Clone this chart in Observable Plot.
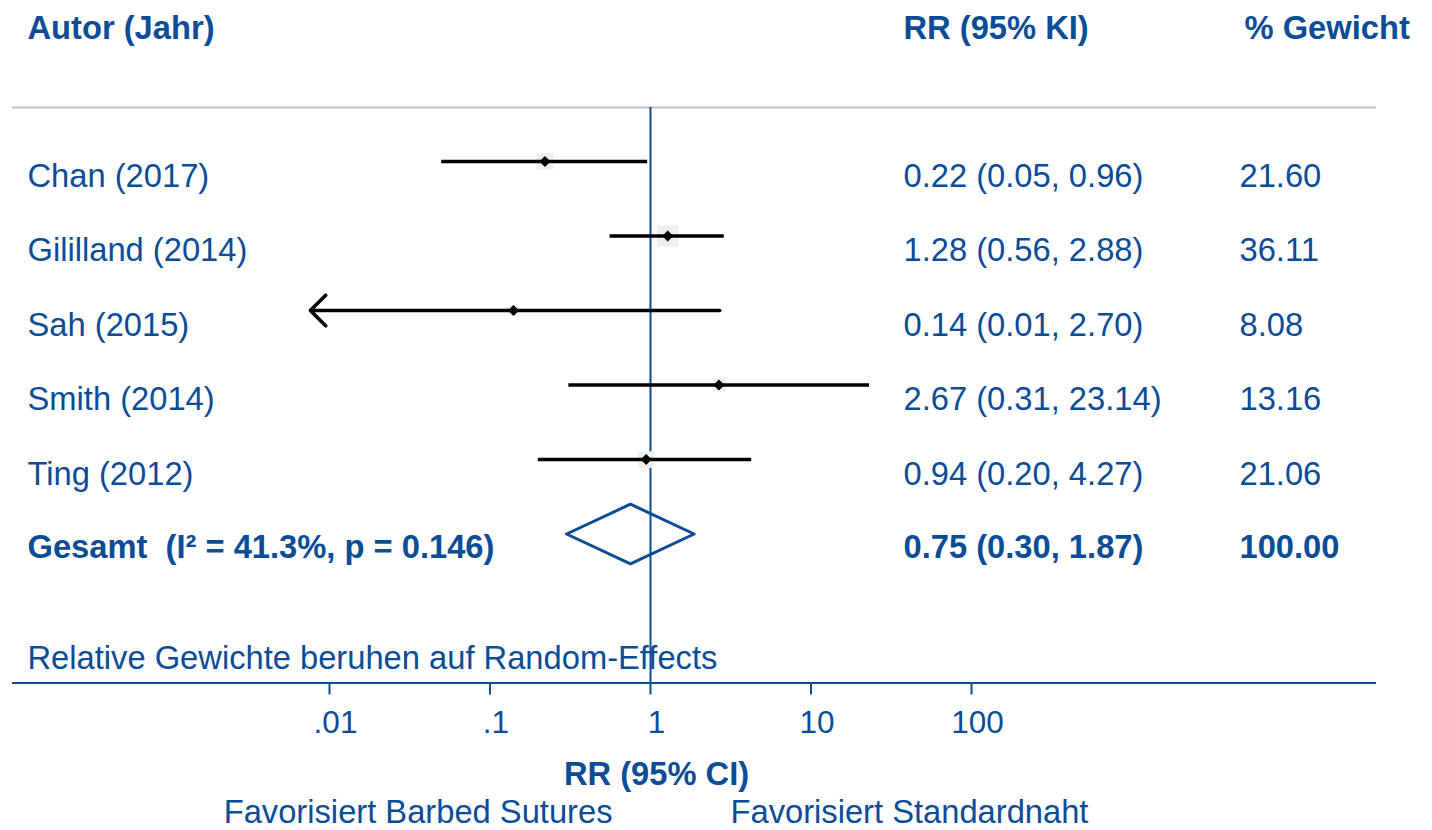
<!DOCTYPE html>
<html>
<head>
<meta charset="utf-8">
<script src="https://cdn.jsdelivr.net/npm/d3@7"></script>
<script src="https://cdn.jsdelivr.net/npm/@observablehq/plot@0.6"></script>
<style>
  html, body { margin: 0; padding: 0; background: #fff; }
  svg { display: block; }
</style>
</head>
<body>
<script>
// ---- data ----
const studies   = ["Chan (2017)", "Gililland (2014)", "Sah (2015)", "Smith (2014)", "Ting (2012)"];
const rr        = [0.22, 1.28, 0.14, 2.67, 0.94];
const ciLow     = [0.05, 0.56, 0.0073, 0.31, 0.20];
const ciHigh    = [0.96, 2.88, 2.70, 23.14, 4.27];
const ciText    = ["0.22 (0.05, 0.96)", "1.28 (0.56, 2.88)", "0.14 (0.01, 2.70)", "2.67 (0.31, 23.14)", "0.94 (0.20, 4.27)"];
const weights   = [21.60, 36.11, 8.08, 13.16, 21.06];
const weightText = ["21.60", "36.11", "8.08", "13.16", "21.06"];
const pooledLabel = "Gesamt\u00a0 (I\u00b2 = 41.3%, p = 0.146)";
const pooled    = {rr: 0.75, lo: 0.30, hi: 1.87};
const pooledText = "0.75 (0.30, 1.87)";
const pooledWeight = "100.00";
const tickValues = [0.01, 0.1, 1, 10, 100];
const tickLabels = [".01", ".1", "1", "10", "100"];
const xMin = 0.0076;   // lower limit of the plotted range (arrow when CI goes beyond)

const rows = studies.map((s, i) => ({
  i, label: s, rr: rr[i], lo: ciLow[i], hi: ciHigh[i], ci: ciText[i],
  w: weights[i], wt: weightText[i], clipped: ciLow[i] < xMin
}));
const pooledRow = studies.length;          // row index of the pooled estimate
const axisRow = pooledRow + 2;             // row position of the x axis line
const topRule = -0.725;                    // row position of the grey header rule

const blue = "#0b4c97";
const font = "Liberation Sans, Arial, Helvetica, sans-serif";
const fs = 32.7;

const diamond = [
  {x: pooled.lo, y: pooledRow},
  {x: pooled.rr, y: pooledRow - 0.4},
  {x: pooled.hi, y: pooledRow},
  {x: pooled.rr, y: pooledRow + 0.4}
];

const chart = Plot.plot({
  width: 1432,
  height: 830,
  margin: 0,
  style: {fontFamily: font, background: "#fff"},
  x: {type: "log", domain: [0.01, 100], range: [329, 971], axis: null},
  y: {type: "linear", domain: [0, 5], range: [161, 533.5], axis: null},
  r: {type: "sqrt", domain: [0, 100], range: [0, 36 / Math.sqrt(Math.PI)]},
  marks: [
    // header rule
    Plot.ruleY([topRule], {stroke: "#c0c0c0", strokeWidth: 2, insetLeft: 12, insetRight: 56}),
    // x axis line
    Plot.ruleY([axisRow], {stroke: blue, strokeWidth: 2, insetLeft: 12, insetRight: 56}),
    // null line
    Plot.ruleX([1], {y1: topRule, y2: axisRow, stroke: blue, strokeWidth: 2}),
    // ticks
    Plot.ruleX(tickValues, {x: d => d, y1: axisRow, y2: axisRow + 0.16, stroke: blue, strokeWidth: 2}),
    Plot.text(tickValues, {x: d => d, y: axisRow, dx: 6, dy: 40, text: (d, i) => tickLabels[i],
      fill: blue, fontSize: 31.5, fontFamily: font}),
    // weight boxes
    Plot.dot(rows, {x: "rr", y: "i", r: "w", symbol: "square", fill: "#efefef", stroke: null}),
    // CI lines
    Plot.ruleY(rows.filter(d => !d.clipped), {y: "i", x1: "lo", x2: "hi", stroke: "black", strokeWidth: 3.6}),
    Plot.arrow(rows.filter(d => d.clipped), {y: "i", x1: "hi", x2: () => xMin, stroke: "black",
      strokeWidth: 3.6, headAngle: 90, headLength: 9}),
    // point estimates
    Plot.dot(rows, {x: "rr", y: "i", symbol: "diamond2", r: 5, fill: "black", stroke: null}),
    // pooled diamond
    Plot.line(diamond, {x: "x", y: "y", curve: "linear-closed", stroke: blue, strokeWidth: 3, fill: "none"}),
    // headers
    Plot.text(["Autor (Jahr)"], {frameAnchor: "top-left", dx: 27, dy: 28, textAnchor: "start", lineAnchor: "middle",
      fill: blue, fontWeight: "bold", fontSize: fs, fontFamily: font}),
    Plot.text(["RR (95% KI)"], {frameAnchor: "top-left", dx: 903, dy: 28, textAnchor: "start", lineAnchor: "middle",
      fill: blue, fontWeight: "bold", fontSize: fs, fontFamily: font}),
    Plot.text(["% Gewicht"], {frameAnchor: "top-left", dx: 1244, dy: 28, textAnchor: "start", lineAnchor: "middle",
      fill: blue, fontWeight: "bold", fontSize: fs, fontFamily: font}),
    // study rows
    Plot.text(rows, {y: "i", text: "label", frameAnchor: "left", dx: 27, dy: 15, textAnchor: "start",
      fill: blue, fontSize: fs, fontFamily: font}),
    Plot.text(rows, {y: "i", text: "ci", frameAnchor: "left", dx: 903, dy: 15, textAnchor: "start",
      fill: blue, fontSize: fs, fontFamily: font}),
    Plot.text(rows, {y: "i", text: "wt", frameAnchor: "left", dx: 1239, dy: 15, textAnchor: "start",
      fill: blue, fontSize: fs, fontFamily: font}),
    // pooled row
    Plot.text([pooledLabel], {y: () => pooledRow, frameAnchor: "left", dx: 27, dy: 14, textAnchor: "start",
      fill: blue, fontWeight: "bold", fontSize: fs, fontFamily: font}),
    Plot.text([pooledText], {y: () => pooledRow, frameAnchor: "left", dx: 903, dy: 14, textAnchor: "start",
      fill: blue, fontWeight: "bold", fontSize: fs, fontFamily: font}),
    Plot.text([pooledWeight], {y: () => pooledRow, frameAnchor: "left", dx: 1239, dy: 14, textAnchor: "start",
      fill: blue, fontWeight: "bold", fontSize: fs, fontFamily: font}),
    // footnote
    Plot.text(["Relative Gewichte beruhen auf Random-Effects"], {frameAnchor: "top-left", dx: 27, dy: 658,
      textAnchor: "start", lineAnchor: "middle", fill: blue, fontSize: fs, fontFamily: font}),
    // axis title & favours labels
    Plot.text(["RR (95% CI)"], {x: () => 1, frameAnchor: "top", dx: 6, dy: 774, lineAnchor: "middle",
      fill: blue, fontWeight: "bold", fontSize: fs, fontFamily: font}),
    Plot.text(["Favorisiert Barbed Sutures"], {x: () => 1, frameAnchor: "top", dx: -38, dy: 812, textAnchor: "end",
      lineAnchor: "middle", fill: blue, fontSize: fs, fontFamily: font}),
    Plot.text(["Favorisiert Standardnaht"], {x: () => 1, frameAnchor: "top", dx: 80, dy: 812, textAnchor: "start",
      lineAnchor: "middle", fill: blue, fontSize: fs, fontFamily: font})
  ]
});
document.body.appendChild(chart);
</script>
</body>
</html>
